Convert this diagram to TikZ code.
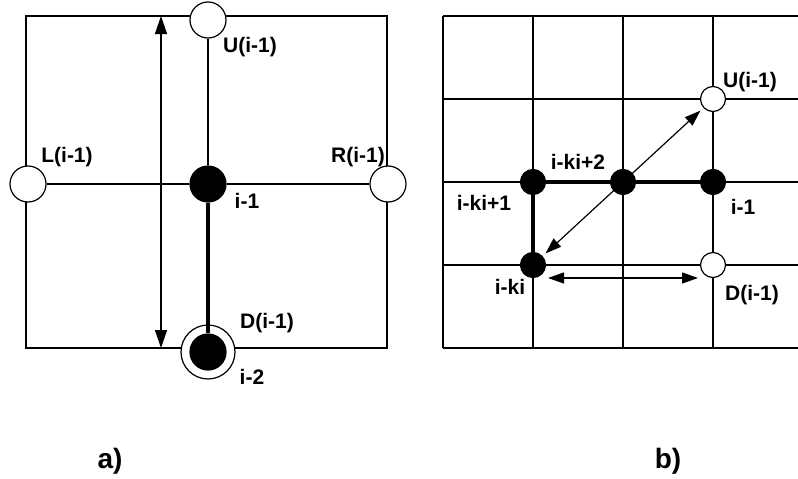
\documentclass[tikz,border=0pt]{standalone}
\usepackage{fontspec}
\setmainfont{Liberation Sans}
\usetikzlibrary{arrows.meta,calc}
\tikzset{
  site/.style={
    shape = circle,
    draw,
    fill = white,
    line width = 1.2pt,
    inner sep = 0pt,
    minimum size = 36pt
  },
  filled/.style={
    site,
    fill = black
  },
  small/.style={
    minimum size = 25pt
  },
  lbl/.style={
    font = \fontsize{21}{24}\selectfont\bfseries,
    inner sep = 0pt
  },
  panel/.style={
    font = \fontsize{28}{32}\selectfont\bfseries,
    inner sep = 0pt
  },
  grid/.style={
    line width = 1.2pt
  },
  chain/.style={
    line width = 4.5pt
  },
  span/.style={
    line width = 1.4pt,
    {Triangle[length=18pt,width=12pt]}-{Triangle[length=18pt,width=12pt]}
  },
  spanb/.style={
    line width = 1.2pt,
    {Triangle[length=16pt,width=11pt]}-{Triangle[length=16pt,width=11pt]}
  }
}
\begin{document}
\begin{tikzpicture}[x=1pt,y=-1pt]
    \useasboundingbox (0,0) rectangle (798,479);
    % a)
    \draw[grid] (26,16) rectangle (387,348);
    \node[site] (ua) at (208,20) {};
    \node[site] (la) at (28,184) {};
    \node[site] (ra) at (388,184) {};
    \node[filled] (ima) at (208,184) {};
    \node[site,minimum size=54pt] (ring) at (208,352) {};
    \node[filled] (i2a) at (208,352) {};
    \draw[grid] (ua) -- (ima);
    \draw[grid] (la) -- (ima);
    \draw[grid] (ima) -- (ra);
    \draw[chain] (ima) -- (i2a);
    \coordinate (atop) at (161,16);
    \coordinate (abot) at (161,348);
    \draw[span] (atop) -- (abot);
    \node[lbl] (lua) at (250,47) {U(i-1)};
    \node[lbl] (lla) at (67,157) {L(i-1)};
    \node[lbl] (lra) at (358,157) {R(i-1)};
    \node[lbl] (lima) at (247,201) {i-1};
    \node[lbl] (lda) at (267,323) {D(i-1)};
    \node[lbl] (li2a) at (252,377) {i-2};
    \node[panel] (pa) at (110,461) {a)};
    % b)
    \foreach \x in {443,533,623,713}{
    \draw[grid] (\x,16) -- (\x,348);}
    \foreach \y in {16,99,182,265,348}{
    \draw[grid] (443,\y) -- (805,\y);}
    \node[site,small] (ub) at (713,99) {};
    \node[site,small] (db) at (713,265) {};
    \node[filled,small] (imb) at (713,182) {};
    \node[filled,small] (ik2) at (623,182) {};
    \node[filled,small] (ik1) at (533,182) {};
    \node[filled,small] (ik) at (533,265) {};
    \draw[chain] (ik1) -- (ik2);
    \draw[chain] (ik2) -- (imb);
    \draw[chain] (ik1) -- (ik);
    \draw[spanb,shorten <=4pt,shorten >=4pt] (ik) -- (ub);
    \coordinate (hl) at (548,278);
    \coordinate (hr) at (698,278);
    \draw[spanb] (hl) -- (hr);
    \node[lbl] (lub) at (750,82) {U(i-1)};
    \node[lbl] (lk2) at (578,162) {i-ki+2};
    \node[lbl] (lk1) at (484,203) {i-ki+1};
    \node[lbl] (limb) at (743,207) {i-1};
    \node[lbl] (lk) at (510,287) {i-ki};
    \node[lbl] (ldb) at (752,295) {D(i-1)};
    \node[panel] (pb) at (668,461) {b)};
\end{tikzpicture}
\end{document}
